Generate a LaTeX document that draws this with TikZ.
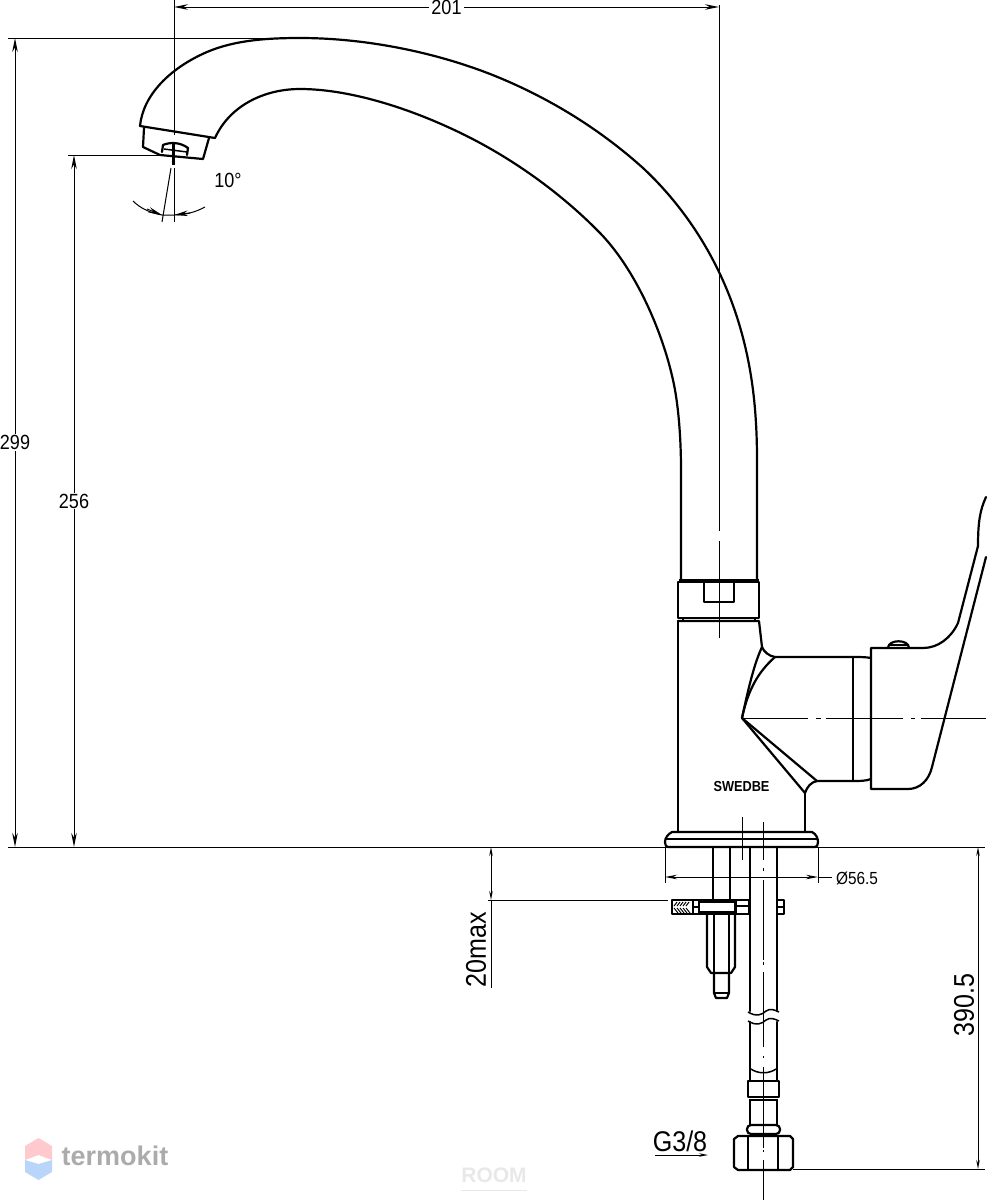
\documentclass[tikz,border=0pt]{standalone}
\usepackage{fontspec}
\setmainfont{Liberation Sans}
\newfontfamily\dimfont[FakeStretch=0.88]{Liberation Sans}
\usetikzlibrary{arrows.meta}
\definecolor{logopink}{HTML}{FFC9CE}
\definecolor{logoblue}{HTML}{B9D6FA}
\definecolor{logogray}{HTML}{ABABAB}
\definecolor{roomgray}{HTML}{E8E8E8}
\tikzset{
	% outline of the tap, thin dimension lines, and their labels
	part line/.style={line width=2.2pt,line join=round,line cap=round},
	thin part/.style={line width=1.5pt,line join=round},
	axis line/.style={line width=1pt},
	dim line/.style={line width=1pt,>={Stealth[length=14pt,width=5.5pt]}},
	small dim/.style={line width=1pt,>={Stealth[length=9pt,width=3.5pt]}},
	dim label/.style={fill=white,inner xsep=2pt,inner ysep=1pt,font=\dimfont\fontsize{20.5}{20}\selectfont},
	side label/.style={inner sep=0pt,font=\dimfont\fontsize{20.5}{20}\selectfont},
	big label/.style={inner sep=0pt,font=\dimfont\fontsize{28.5}{28}\selectfont}
}

\begin{document}
\begin{tikzpicture}[x=1pt,y=-1pt]
  \useasboundingbox (0,0) rectangle (986,1200);

  %% spout
  \draw[part line] (140,126) .. controls (143,95) and (170,68) .. (207,52)
    .. controls (235,40) and (268,38) .. (300,38)
    .. controls (372,38) and (445,55) .. (500,78)
    .. controls (555,101) and (603,132) .. (643,168)
    .. controls (688,210) and (722,265) .. (740,327)
    .. controls (752,368) and (757,410) .. (757,460) -- (757,580);
  \draw[part line] (215,138) .. controls (230,105) and (265,89) .. (300,89)
    .. controls (345,89) and (400,105) .. (450,128)
    .. controls (505,153) and (558,190) .. (600,233)
    .. controls (635,269) and (662,330) .. (673,380)
    .. controls (678,402) and (681,435) .. (681,470) -- (681,580);
  \draw[part line] (140,126) -- (215,138);
  \draw[part line] (144,128) -- (143,147) -- (160,155) -- (203,159) -- (209,138);
  \draw[part line] (162,152) -- (163,145) .. controls (170,142) and (180,142) .. (188,148) -- (187,155);
  \draw[thin part] (164,149) -- (187,152);
  \draw[line width=3pt] (173,143) -- (173,165);

  %% nut on the neck
  \draw[line width=3pt] (679,580) -- (759,580);
  \draw[part line] (678,582) rectangle (759,618);
  \draw[thin part] (704,582) -- (704,602) -- (734,602) -- (734,582);
  \draw[thin part] (683,618) -- (683,621) (755,618) -- (755,621);

  %% body
  \draw[part line] (678,621) -- (759,621) -- (762,647);
  \draw[part line] (678,621) -- (678,832);
  \draw[part line] (805,793) -- (805,832);
  \node(brand) at (741.5,786) [inner sep=0pt,font=\dimfont\fontsize{14.5}{14}\selectfont\bfseries]{SWEDBE};

  %% base plate
  \draw[part line] (672,832) -- (812,832) .. controls (816,834) and (818,838) .. (818,842)
    .. controls (818,845) and (817,847) .. (815,847) -- (668,847)
    .. controls (666,847) and (665,845) .. (665,842) .. controls (665,838) and (668,834) .. (672,832);
  \draw[part line] (666,839) -- (817,839);

  %% lever hub
  \draw[part line] (742,718) .. controls (748,690) and (754,664) .. (762,647)
    .. controls (764,652) and (769,656) .. (775,657);
  \draw[part line] (742,718) .. controls (748,690) and (758,672) .. (775,657)
    -- (853,657) .. controls (860,657) and (866,657) .. (871,658);
  \draw[part line] (742,718) -- (817,781) -- (853,781) .. controls (860,781) and (866,781) .. (871,779);
  \draw[part line] (742,718) -- (805,793) .. controls (807,787) and (811,782) .. (817,781);
  \draw[part line] (853,657) -- (853,781);

  %% lever
  \draw[part line] (986,497) .. controls (980,510) and (978,522) .. (978,546)
    -- (958,623) .. controls (951,638) and (938,648) .. (923,648) -- (871,648) -- (871,789)
    -- (908,789) .. controls (920,789) and (929,780) .. (932,767) -- (986,557);
  \draw[part line] (888,648) .. controls (888,639) and (909,639) .. (909,648);
  \draw[thin part] (889,645) -- (908,645);

  %% mounting stud and fixing plate
  \draw[part line] (713,847) -- (713,900) (730,847) -- (730,900);
  \draw[part line] (672,900) rectangle (749,914);
  \draw[part line] (777,900) rectangle (784,914);
  \draw[thin part] (777,907) -- (784,907);
  \draw[thin part] (693,900) -- (693,914) (699,900) -- (699,914);
  \draw[thin part] (693,907) -- (699,907);
  \draw[thin part] (699,902) -- (735,902) (699,912) -- (735,912) (735,906) -- (749,906);
  \draw[line width=3pt] (735,900) -- (735,914);
  \foreach \hx in {674,677,...,687}{
    \draw[line width=1pt] (\hx,906) -- (\hx+3,902);
    \draw[line width=1pt] (\hx,908) -- (\hx+4,913);
  }
  \draw[part line] (707,914) -- (707,967) -- (711,973) -- (731,973) -- (735,967) -- (735,914);
  \draw[thin part] (714,914) -- (714,973) (729,914) -- (729,973);
  \draw[part line] (714,973) -- (714,993) -- (716,998) -- (727,998) -- (729,993) -- (729,973);
  \draw[thin part] (714,993) -- (729,993);

  %% flexible hose
  \draw[part line] (750,847) -- (750,1011) (777,847) -- (777,1011);
  \draw[thin part] (748,1012) .. controls (756,1017) and (762,1015) .. (766,1011) .. controls (770,1008) and (775,1010) .. (779,1012);
  \draw[thin part] (748,1021) .. controls (756,1026) and (762,1024) .. (766,1020) .. controls (770,1017) and (775,1019) .. (779,1021);
  \draw[part line] (750,1022) -- (750,1081) (777,1022) -- (777,1081);
  \draw[thin part] (751,1069) .. controls (758,1074) and (769,1074) .. (776,1069);
  \draw[part line] (748,1081) rectangle (779,1097);
  \draw[thin part] (749,1100) -- (778,1100);
  \draw[part line] (750,1100) -- (750,1125) (777,1100) -- (777,1125);
  \draw[part line,rounded corners=4pt] (747,1125) rectangle (780,1134);
  \draw[part line] (738,1136) -- (790,1136) -- (793,1139) -- (793,1167) -- (790,1170)
    -- (738,1170) -- (734,1167) -- (734,1139) -- cycle;
  \draw[thin part] (748,1137) -- (748,1169) (778,1137) -- (778,1169);

  %% centre lines
  \draw[axis line] (719,5) -- (719,531) (719,541) -- (719,638);
  \draw[axis line] (742,718) -- (808,718) (816,718) -- (821,718) (826,718) -- (903,718)
    (911,718) -- (915,718) (921,718) -- (986,718);
  \draw[axis line] (742,817) -- (742,860);
  \draw[axis line] (763,822) -- (763,860) (763,868) -- (763,871) (763,880) -- (763,960)
    (763,962) -- (763,965) (763,972) -- (763,1047) (763,1056) -- (763,1058)
    (763,1067) -- (763,1148) (763,1150) -- (763,1152) (763,1160) -- (763,1200);

  %% spray angle
  \coordinate (spray1) at (162,215);
  \coordinate (spray2) at (174,215);
  \draw[axis line] (174,168) -- (174,222);
  \draw[axis line] (171,168) -- (162,222);
  \draw[axis line] (133,201) .. controls (140,208) and (150,213) .. (162,215) -- (174,215)
    .. controls (185,215) and (196,212) .. (205,207);
  \draw[dim line,->] (147,209) -- (spray1);
  \draw[dim line,->] (190,213) -- (spray2);
  \node(angle) at (228,180) [side label]{10°};

  %% dimensions
  \coordinate (top left) at (174,7);
  \coordinate (top right) at (719,7);
  \coordinate (h299 top) at (15,38);
  \coordinate (h299 bottom) at (15,847);
  \coordinate (h256 top) at (74,155);
  \coordinate (h256 bottom) at (74,847);
  \draw[axis line] (174,0) -- (174,135);
  \draw[axis line] (8,38) -- (290,38);
  \draw[axis line] (68,155) -- (160,155);
  \draw[axis line] (8,847) -- (985,847);
  \path[dim line,<->,draw] (top left) -- node[dim label]{201} (top right);
  \path[dim line,<->,draw] (h299 top) -- node[pos=.5,dim label]{299} (h299 bottom);
  \path[dim line,<->,draw] (h256 top) -- node[pos=.5,dim label]{256} (h256 bottom);

  \coordinate (d left) at (665,877);
  \coordinate (d right) at (818,877);
  \draw[axis line] (665,847) -- (665,883) (818,847) -- (818,883);
  \draw[small dim,>={Stealth[length=12pt,width=4.5pt]},<->] (d left) -- (d right);
  \draw[axis line] (818,877) -- (832,877);
  \node(diam) at (857,878) [side label,font=\dimfont\fontsize{17.5}{17}\selectfont]{Ø56.5};

  \coordinate (max top) at (491,847);
  \coordinate (max bottom) at (491,900);
  \draw[small dim,<->] (max top) -- (max bottom);
  \draw[axis line] (491,900) -- (491,988);
  \draw[axis line] (488,900) -- (668,900);
  \node(max) at (476,950) [big label,rotate=90]{20max};

  \coordinate (hose top) at (978,847);
  \coordinate (hose bottom) at (978,1169);
  \draw[small dim,<->] (hose top) -- (hose bottom);
  \draw[axis line] (793,1169) -- (985,1169);
  \node(hoselen) at (964,1005) [big label,rotate=90]{390.5};

  \coordinate (thread start) at (655,1155);
  \coordinate (thread end) at (708,1155);
  \draw[small dim,->] (thread start) -- (thread end);
  \node(thread) at (680,1141) [big label]{G3/8};

  %% watermarks
  \fill[logopink] (38.5,1138) -- (52,1146) -- (52,1160) -- (38.5,1155) -- (25,1160) -- (25,1146) -- cycle;
  \fill[logoblue] (38.5,1180) -- (52,1172) -- (52,1160) -- (38.5,1164) -- (25,1160) -- (25,1172) -- cycle;
  \node(logo) at (115,1156) [inner sep=0pt,text=logogray,font=\fontsize{27}{27}\selectfont\bfseries]{termokit};
  \node(room) at (494,1175) [inner sep=0pt,text=roomgray,font=\fontsize{21}{21}\selectfont\bfseries]{ROOM};
  \draw[roomgray,line width=.8pt] (461,1190) -- (527,1190);
\end{tikzpicture}
\end{document}
